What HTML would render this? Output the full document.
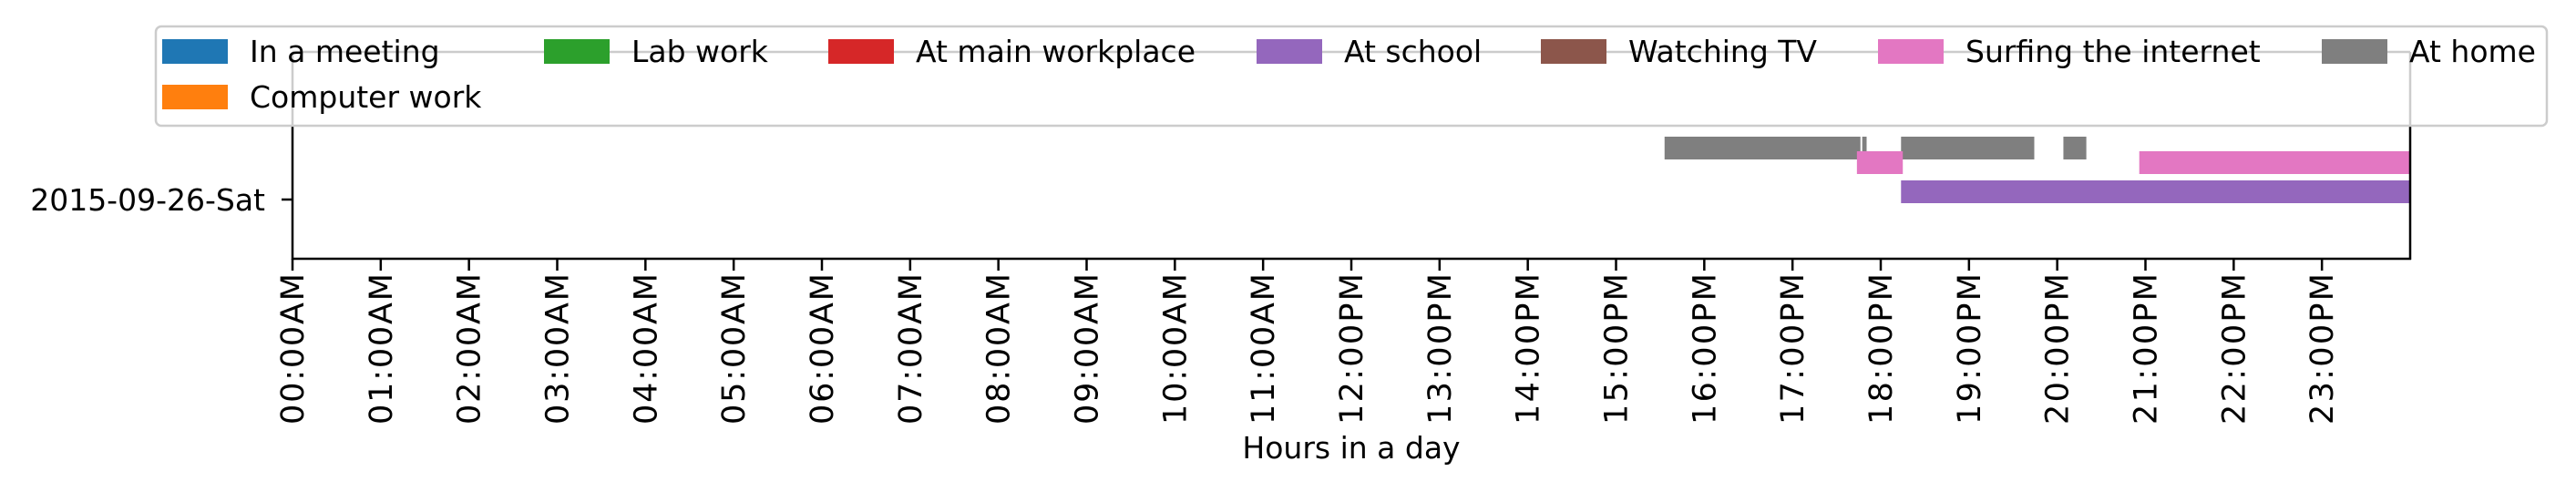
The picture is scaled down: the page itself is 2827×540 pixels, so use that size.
<!DOCTYPE html>
<html><head><meta charset="utf-8"><style>
html,body{margin:0;padding:0;background:#fff;}
svg{display:block;font-family:"DejaVu Sans","Liberation Sans",sans-serif;}
</style></head><body>
<svg id="chart" width="2827" height="540" viewBox="0 0 2827 540">
<g id="plot"></g>
</svg>
<script>
const categories = ["2015-09-26-Sat"];
const activities = ["In a meeting","Computer work","Lab work","At main workplace","At school","Watching TV","Surfing the internet","At home"];
const colors = ["#1f77b4","#ff7f0e","#2ca02c","#d62728","#9467bd","#8c564b","#e377c2","#7f7f7f"];
const homeStarts = [15.55, 17.79, 18.23, 20.07];
const homeEnds   = [17.77, 17.84, 19.74, 20.33];
const surfStarts = [17.73, 20.93];
const surfEnds   = [18.25, 24.0];
const schoolStarts = [18.23];
const schoolEnds   = [24.0];
const tickHours = [0,1,2,3,4,5,6,7,8,9,10,11,12,13,14,15,16,17,18,19,20,21,22,23];
const tickLabels = ["00:00AM","01:00AM","02:00AM","03:00AM","04:00AM","05:00AM","06:00AM","07:00AM","08:00AM","09:00AM","10:00AM","11:00AM","12:00PM","13:00PM","14:00PM","15:00PM","16:00PM","17:00PM","18:00PM","19:00PM","20:00PM","21:00PM","22:00PM","23:00PM"];

const NS="http://www.w3.org/2000/svg";
const svg=document.getElementById('chart');
const L=321,R=2645,T=57,B=284;
const x=h=>L+h*(R-L)/24;
function el(tag,attrs,parent){const e=document.createElementNS(NS,tag);for(const k in attrs)e.setAttribute(k,attrs[k]);(parent||svg).appendChild(e);return e;}

function bars(starts,ends,y0,y1,color,name){
  for(let i=0;i<starts.length;i++){
    const r=el('rect',{x:x(starts[i]),y:y0,width:x(ends[i])-x(starts[i]),height:y1-y0,fill:color});
    
    
  }
}
bars(homeStarts,homeEnds,150,175,colors[7],'at-home');
bars(surfStarts,surfEnds,166,191,colors[6],'surfing-internet');
bars(schoolStarts,schoolEnds,198,223,colors[4],'at-school');

let s;
s=el('line',{x1:L,y1:T,x2:L,y2:B+1,stroke:'#000','stroke-width':2.5});

s=el('line',{x1:R,y1:T,x2:R,y2:B+1,stroke:'#000','stroke-width':2.5});

s=el('line',{x1:L-1,y1:B,x2:R+1,y2:B,stroke:'#000','stroke-width':2.5});

s=el('line',{x1:L,y1:T,x2:R,y2:T,stroke:'#000','stroke-width':2.5});


const yc=219;
s=el('line',{x1:L-12,y1:yc,x2:L,y2:yc,stroke:'#000','stroke-width':2.5});

categories.forEach(c=>{
  const t=el('text',{x:L-30,y:yc+12,'text-anchor':'end','font-size':33,fill:'#000'});
  t.textContent=c;
  
  
});

tickHours.forEach((h,i)=>{
  const tk=el('line',{x1:x(h),y1:B,x2:x(h),y2:B+13,stroke:'#000','stroke-width':2.5});
  
  
  const t=el('text',{transform:`translate(${x(h)+12},${B+16}) rotate(-90)`,'text-anchor':'end','font-size':35,'textLength':166,fill:'#000'});
  t.textContent=tickLabels[i];
  
  
});
const xt=el('text',{x:(L+R)/2,y:503,'text-anchor':'middle','font-size':33,fill:'#000'});
xt.textContent='Hours in a day';



const lg=el('g',{});


const box=el('rect',{x:171,y:29,width:2624,height:109,rx:6,fill:'#fff','fill-opacity':0.8,stroke:'#ccc','stroke-width':2.5},lg);


const legOrder=[0,2,3,4,5,6,7,1];
const patchX=[178,597,909,1379,1691,2061,2548,178];
const rowY=[43,43,43,43,43,43,43,93];
legOrder.forEach((ai,i)=>{
  const g=el('g',{},lg);
  
  
  el('rect',{x:patchX[i],y:rowY[i],width:72,height:27,fill:colors[ai]},g);
  const t=el('text',{x:patchX[i]+96,y:rowY[i]+25,'font-size':33,fill:'#000'},g);
  t.textContent=activities[ai];
});
</script>
</body></html>
